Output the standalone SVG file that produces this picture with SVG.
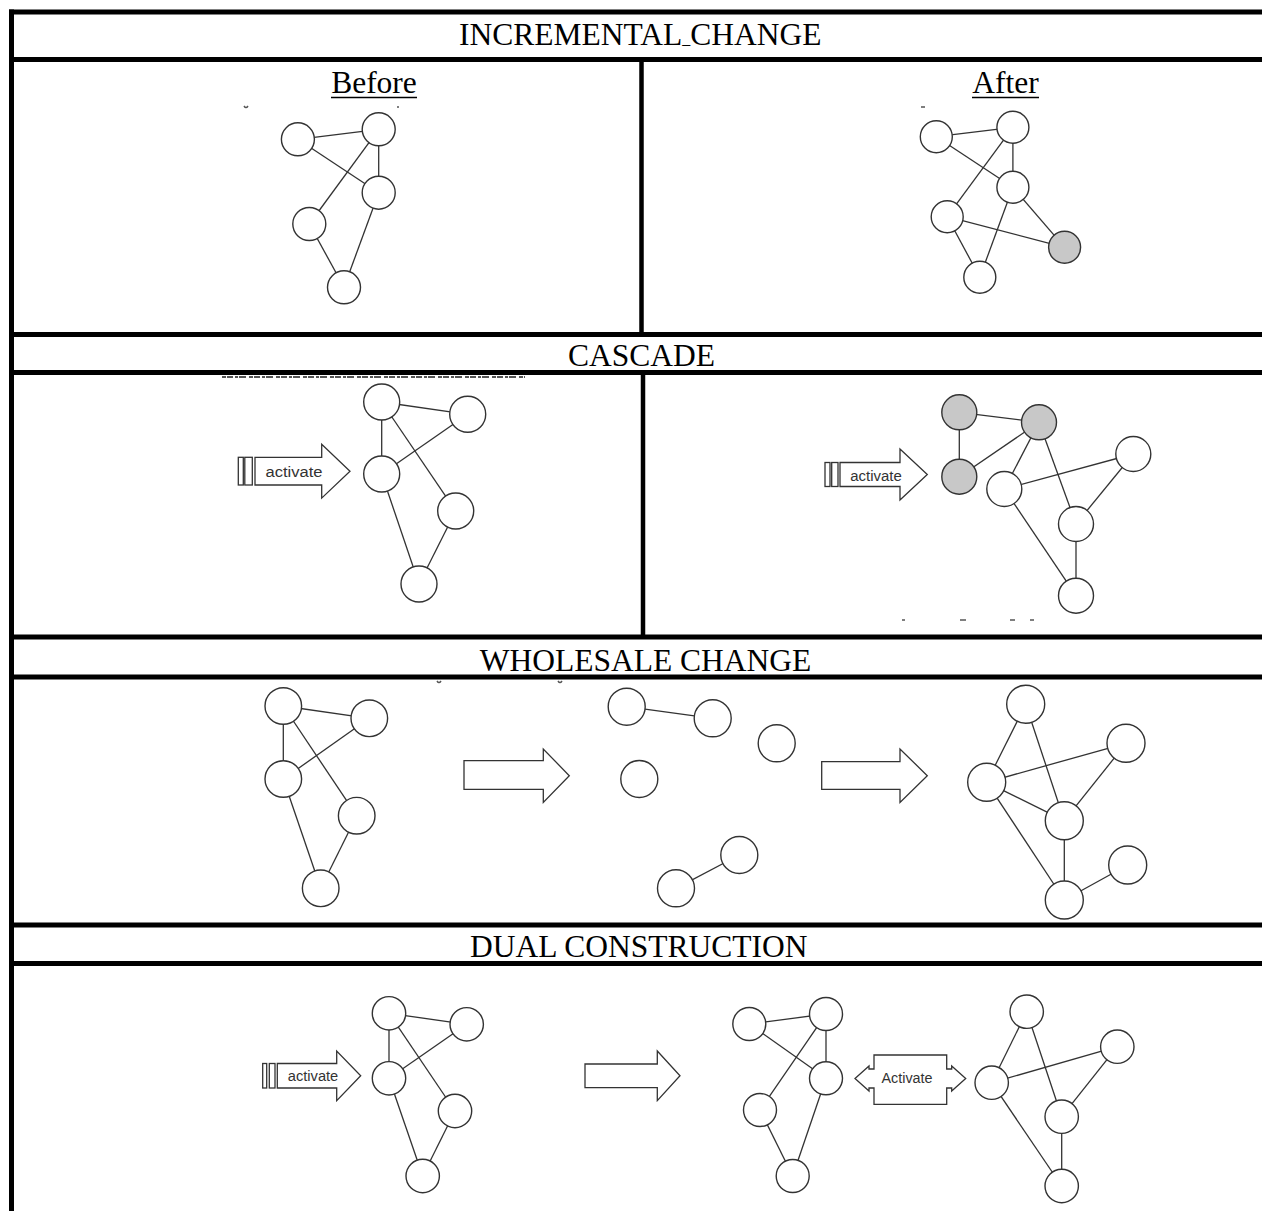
<svg xmlns="http://www.w3.org/2000/svg" width="1262" height="1211" viewBox="0 0 1262 1211">
<style>
.frame{stroke:#000;stroke-width:5;fill:none}
.div{stroke:#000;stroke-width:4.5;fill:none}
.title{font-family:"Liberation Serif","Times New Roman",serif;font-size:31.5px;fill:#000}
.ul{stroke:#000;stroke-width:1.6}
.n{fill:#fff;stroke:#333;stroke-width:1.4}
.g{fill:#c8c8c8;stroke:#333;stroke-width:1.4}
.e{stroke:#333;stroke-width:1.3;fill:none}
.arr{fill:#fff;stroke:#333;stroke-width:1.3}
.act{font-family:"Liberation Sans",Arial,sans-serif;font-size:15.5px;fill:#333}
.frag{stroke:#555;stroke-width:1.5;fill:none}
</style>
<rect width="1262" height="1211" fill="#fff"/>
<g id="table">
<line class="frame" x1="9" y1="12" x2="1262" y2="12"/>
<line class="frame" x1="9" y1="59.5" x2="1262" y2="59.5"/>
<line class="frame" x1="9" y1="334.5" x2="1262" y2="334.5"/>
<line class="frame" x1="9" y1="372.5" x2="1262" y2="372.5"/>
<line class="frame" x1="9" y1="637" x2="1262" y2="637"/>
<line class="frame" x1="9" y1="677" x2="1262" y2="677"/>
<line class="frame" x1="9" y1="925" x2="1262" y2="925"/>
<line class="frame" x1="9" y1="963.5" x2="1262" y2="963.5"/>
<line class="frame" x1="11.5" y1="9.5" x2="11.5" y2="1211"/>
<line class="div" x1="641.5" y1="59.5" x2="641.5" y2="334.5"/>
<line class="div" x1="643" y1="372.5" x2="643" y2="637"/>
</g>
<g id="titles">
<text class="title" x="459" y="45">INCREMENTAL<tspan font-size="16" dy="-1">_</tspan><tspan dy="1">CHANGE</tspan></text>
<text class="title" x="374" y="93" text-anchor="middle">Before</text>
<line class="ul" x1="331" y1="97.5" x2="417" y2="97.5"/>
<text class="title" x="1005.5" y="93" text-anchor="middle">After</text>
<line class="ul" x1="972" y1="97.5" x2="1039" y2="97.5"/>
<text class="title" x="641.5" y="366" text-anchor="middle">CASCADE</text>
<text class="title" x="645.5" y="670.5" text-anchor="middle">WHOLESALE CHANGE</text>
<text class="title" x="470" y="956.5">DUAL CONSTRUCTION</text>
</g>
<g id="fragments">
<path class="frag" d="M244 106 q2 3 4 0 M397 107 h2 M921 107 h4"/>
<path d="M222 377 H525" stroke="#555" stroke-width="2" stroke-dasharray="4 1 6 2 3 1 7 3"/>
<path class="frag" d="M437 681 q2 3 4 0 M558 681 q2 3 4 0 M902 620 h3 M960 620 h6 M1010 620 h5 M1030 620 h4"/>
</g>
<g id="connectors">
<line class="e" x1="297.9" y1="139.3" x2="378.7" y2="129.3"/>
<line class="e" x1="297.9" y1="139.3" x2="378.7" y2="192.7"/>
<line class="e" x1="378.7" y1="129.3" x2="378.7" y2="192.7"/>
<line class="e" x1="378.7" y1="129.3" x2="309.3" y2="224"/>
<line class="e" x1="378.7" y1="192.7" x2="344" y2="287.3"/>
<line class="e" x1="309.3" y1="224" x2="344" y2="287.3"/>
<line class="e" x1="936.3" y1="136.7" x2="1012.9" y2="127.3"/>
<line class="e" x1="936.3" y1="136.7" x2="1012.9" y2="187.3"/>
<line class="e" x1="1012.9" y1="127.3" x2="1012.9" y2="187.3"/>
<line class="e" x1="1012.9" y1="127.3" x2="947.2" y2="216.7"/>
<line class="e" x1="1012.9" y1="187.3" x2="979.8" y2="277.3"/>
<line class="e" x1="1012.9" y1="187.3" x2="1064.6" y2="247.3"/>
<line class="e" x1="947.2" y1="216.7" x2="1064.6" y2="247.3"/>
<line class="e" x1="947.2" y1="216.7" x2="979.8" y2="277.3"/>
<line class="e" x1="381.7" y1="402" x2="467.7" y2="414.3"/>
<line class="e" x1="381.7" y1="402" x2="381.7" y2="474"/>
<line class="e" x1="381.7" y1="402" x2="455.7" y2="511"/>
<line class="e" x1="381.7" y1="474" x2="467.7" y2="414.3"/>
<line class="e" x1="381.7" y1="474" x2="419" y2="584"/>
<line class="e" x1="455.7" y1="511" x2="419" y2="584"/>
<line class="e" x1="959.3" y1="412.3" x2="1039" y2="422.3"/>
<line class="e" x1="959.3" y1="412.3" x2="959.3" y2="476.7"/>
<line class="e" x1="959.3" y1="476.7" x2="1039" y2="422.3"/>
<line class="e" x1="1039" y1="422.3" x2="1004.3" y2="489"/>
<line class="e" x1="1039" y1="422.3" x2="1076" y2="524"/>
<line class="e" x1="1004.3" y1="489" x2="1133.3" y2="454"/>
<line class="e" x1="1133.3" y1="454" x2="1076" y2="524"/>
<line class="e" x1="1004.3" y1="489" x2="1076" y2="595.7"/>
<line class="e" x1="1076" y1="524" x2="1076" y2="595.7"/>
<line class="e" x1="283.3" y1="706" x2="369.3" y2="718.3"/>
<line class="e" x1="283.3" y1="706" x2="283.3" y2="779"/>
<line class="e" x1="283.3" y1="706" x2="356.7" y2="815.7"/>
<line class="e" x1="283.3" y1="779" x2="369.3" y2="718.3"/>
<line class="e" x1="283.3" y1="779" x2="320.7" y2="888.3"/>
<line class="e" x1="356.7" y1="815.7" x2="320.7" y2="888.3"/>
<line class="e" x1="626.7" y1="706.7" x2="712.7" y2="718.3"/>
<line class="e" x1="739.3" y1="855" x2="676" y2="888.3"/>
<line class="e" x1="1025.7" y1="704.3" x2="986.7" y2="782.3"/>
<line class="e" x1="1025.7" y1="704.3" x2="1064.3" y2="820.7"/>
<line class="e" x1="986.7" y1="782.3" x2="1126" y2="743.3"/>
<line class="e" x1="986.7" y1="782.3" x2="1064.3" y2="820.7"/>
<line class="e" x1="1126" y1="743.3" x2="1064.3" y2="820.7"/>
<line class="e" x1="986.7" y1="782.3" x2="1064.3" y2="900"/>
<line class="e" x1="1064.3" y1="820.7" x2="1064.3" y2="900"/>
<line class="e" x1="1064.3" y1="900" x2="1127.7" y2="865"/>
<line class="e" x1="389" y1="1013.3" x2="466.7" y2="1024.3"/>
<line class="e" x1="389" y1="1013.3" x2="389" y2="1078.3"/>
<line class="e" x1="389" y1="1013.3" x2="455" y2="1111"/>
<line class="e" x1="389" y1="1078.3" x2="466.7" y2="1024.3"/>
<line class="e" x1="389" y1="1078.3" x2="422.7" y2="1176"/>
<line class="e" x1="455" y1="1111" x2="422.7" y2="1176"/>
<line class="e" x1="749.3" y1="1024" x2="826" y2="1014"/>
<line class="e" x1="749.3" y1="1024" x2="826" y2="1078.3"/>
<line class="e" x1="826" y1="1014" x2="826" y2="1078.3"/>
<line class="e" x1="826" y1="1014" x2="760" y2="1110"/>
<line class="e" x1="826" y1="1078.3" x2="792.7" y2="1176"/>
<line class="e" x1="760" y1="1110" x2="792.7" y2="1176"/>
<line class="e" x1="1026.7" y1="1011.7" x2="991.7" y2="1082.7"/>
<line class="e" x1="1026.7" y1="1011.7" x2="1061.7" y2="1116.7"/>
<line class="e" x1="991.7" y1="1082.7" x2="1117.3" y2="1046.7"/>
<line class="e" x1="1117.3" y1="1046.7" x2="1061.7" y2="1116.7"/>
<line class="e" x1="991.7" y1="1082.7" x2="1061.7" y2="1186"/>
<line class="e" x1="1061.7" y1="1116.7" x2="1061.7" y2="1186"/>
</g>
<g id="arrows">
<g id="cascade-left-activate">
<rect class="arr" x="238.3" y="457.3" width="5" height="27.7"/>
<rect class="arr" x="244.8" y="457.3" width="7.5" height="27.7"/>
<path class="arr" d="M255 457.3 H321.7 V444.3 L350 471.2 L321.7 498.1 V485 H255 Z"/>
<text class="act" x="294" y="477" text-anchor="middle" textLength="57" lengthAdjust="spacingAndGlyphs">activate</text>
</g>
<g id="cascade-right-activate">
<rect class="arr" x="825" y="462.5" width="5" height="24"/>
<rect class="arr" x="831.7" y="462.5" width="6.3" height="24"/>
<path class="arr" d="M840 462.5 H900 V449 L927.3 474.5 L900 500 V486.5 H840 Z"/>
<text class="act" x="876" y="481" text-anchor="middle" textLength="51.5" lengthAdjust="spacingAndGlyphs">activate</text>
</g>
<g id="wholesale-arrow-1">
<path class="arr" d="M464 760.7 H543.3 V749 L569.3 775.7 L543.3 802.5 V789.3 H464 Z"/>
</g>
<g id="wholesale-arrow-2">
<path class="arr" d="M821.7 761.7 H900 V749 L927.3 775.7 L900 802.5 V789.3 H821.7 Z"/>
</g>
<g id="dual-activate">
<rect class="arr" x="262.7" y="1063.5" width="4" height="24.5"/>
<rect class="arr" x="269.3" y="1063.5" width="5.7" height="24.5"/>
<path class="arr" d="M277.3 1063.5 H336.7 V1051 L360.7 1075.8 L336.7 1100.6 V1088 H277.3 Z"/>
<text class="act" x="313" y="1081" text-anchor="middle" textLength="50.5" lengthAdjust="spacingAndGlyphs">activate</text>
</g>
<g id="dual-arrow">
<path class="arr" d="M585 1064 H657.3 V1051 L680 1075.8 L657.3 1100.6 V1087.7 H585 Z"/>
</g>
<g id="dual-double-activate">
<path class="arr" d="M874 1055 H946.7 V1069 H951.7 V1066 L965.7 1078.5 L951.7 1091 V1088 H946.7 V1104.3 H874 V1088 H869 V1091 L855 1078.5 L869 1066 V1069 H874 Z"/>
<text class="act" x="907" y="1083" text-anchor="middle" textLength="51" lengthAdjust="spacingAndGlyphs">Activate</text>
</g>
</g>
<g id="nodes">
<g id="before-1"><circle class="n" cx="297.9" cy="139.3" r="16.5"/></g>
<g id="before-2"><circle class="n" cx="378.7" cy="129.3" r="16.5"/></g>
<g id="before-3"><circle class="n" cx="378.7" cy="192.7" r="16.5"/></g>
<g id="before-4"><circle class="n" cx="309.3" cy="224" r="16.5"/></g>
<g id="before-5"><circle class="n" cx="344" cy="287.3" r="16.5"/></g>
<g id="after-1"><circle class="n" cx="936.3" cy="136.7" r="16"/></g>
<g id="after-2"><circle class="n" cx="1012.9" cy="127.3" r="16"/></g>
<g id="after-3"><circle class="n" cx="1012.9" cy="187.3" r="16"/></g>
<g id="after-4"><circle class="n" cx="947.2" cy="216.7" r="16"/></g>
<g id="after-5"><circle class="g" cx="1064.6" cy="247.3" r="16"/></g>
<g id="after-6"><circle class="n" cx="979.8" cy="277.3" r="16"/></g>
<g id="cascL-1"><circle class="n" cx="381.7" cy="402" r="18"/></g>
<g id="cascL-2"><circle class="n" cx="467.7" cy="414.3" r="18"/></g>
<g id="cascL-3"><circle class="n" cx="381.7" cy="474" r="18"/></g>
<g id="cascL-4"><circle class="n" cx="455.7" cy="511" r="18"/></g>
<g id="cascL-5"><circle class="n" cx="419" cy="584" r="18"/></g>
<g id="cascR-1"><circle class="g" cx="959.3" cy="412.3" r="17.5"/></g>
<g id="cascR-2"><circle class="g" cx="1039" cy="422.3" r="17.5"/></g>
<g id="cascR-3"><circle class="g" cx="959.3" cy="476.7" r="17.5"/></g>
<g id="cascR-4"><circle class="n" cx="1004.3" cy="489" r="17.5"/></g>
<g id="cascR-5"><circle class="n" cx="1133.3" cy="454" r="17.5"/></g>
<g id="cascR-6"><circle class="n" cx="1076" cy="524" r="17.5"/></g>
<g id="cascR-7"><circle class="n" cx="1076" cy="595.7" r="17.5"/></g>
<g id="wsL-1"><circle class="n" cx="283.3" cy="706" r="18.3"/></g>
<g id="wsL-2"><circle class="n" cx="369.3" cy="718.3" r="18.3"/></g>
<g id="wsL-3"><circle class="n" cx="283.3" cy="779" r="18.3"/></g>
<g id="wsL-4"><circle class="n" cx="356.7" cy="815.7" r="18.3"/></g>
<g id="wsL-5"><circle class="n" cx="320.7" cy="888.3" r="18.3"/></g>
<g id="wsM-1"><circle class="n" cx="626.7" cy="706.7" r="18.5"/></g>
<g id="wsM-2"><circle class="n" cx="712.7" cy="718.3" r="18.5"/></g>
<g id="wsM-3"><circle class="n" cx="776.7" cy="743.3" r="18.5"/></g>
<g id="wsM-4"><circle class="n" cx="639.3" cy="779" r="18.5"/></g>
<g id="wsM-5"><circle class="n" cx="739.3" cy="855" r="18.5"/></g>
<g id="wsM-6"><circle class="n" cx="676" cy="888.3" r="18.5"/></g>
<g id="wsR-1"><circle class="n" cx="1025.7" cy="704.3" r="19"/></g>
<g id="wsR-2"><circle class="n" cx="1126" cy="743.3" r="19"/></g>
<g id="wsR-3"><circle class="n" cx="986.7" cy="782.3" r="19"/></g>
<g id="wsR-4"><circle class="n" cx="1064.3" cy="820.7" r="19"/></g>
<g id="wsR-5"><circle class="n" cx="1127.7" cy="865" r="19"/></g>
<g id="wsR-6"><circle class="n" cx="1064.3" cy="900" r="19"/></g>
<g id="dualA-1"><circle class="n" cx="389" cy="1013.3" r="16.7"/></g>
<g id="dualA-2"><circle class="n" cx="466.7" cy="1024.3" r="16.7"/></g>
<g id="dualA-3"><circle class="n" cx="389" cy="1078.3" r="16.7"/></g>
<g id="dualA-4"><circle class="n" cx="455" cy="1111" r="16.7"/></g>
<g id="dualA-5"><circle class="n" cx="422.7" cy="1176" r="16.7"/></g>
<g id="dualB-1"><circle class="n" cx="749.3" cy="1024" r="16.5"/></g>
<g id="dualB-2"><circle class="n" cx="826" cy="1014" r="16.5"/></g>
<g id="dualB-3"><circle class="n" cx="826" cy="1078.3" r="16.5"/></g>
<g id="dualB-4"><circle class="n" cx="760" cy="1110" r="16.5"/></g>
<g id="dualB-5"><circle class="n" cx="792.7" cy="1176" r="16.5"/></g>
<g id="dualC-1"><circle class="n" cx="1026.7" cy="1011.7" r="16.7"/></g>
<g id="dualC-2"><circle class="n" cx="1117.3" cy="1046.7" r="16.7"/></g>
<g id="dualC-3"><circle class="n" cx="991.7" cy="1082.7" r="16.7"/></g>
<g id="dualC-4"><circle class="n" cx="1061.7" cy="1116.7" r="16.7"/></g>
<g id="dualC-5"><circle class="n" cx="1061.7" cy="1186" r="16.7"/></g>
</g>
</svg>
